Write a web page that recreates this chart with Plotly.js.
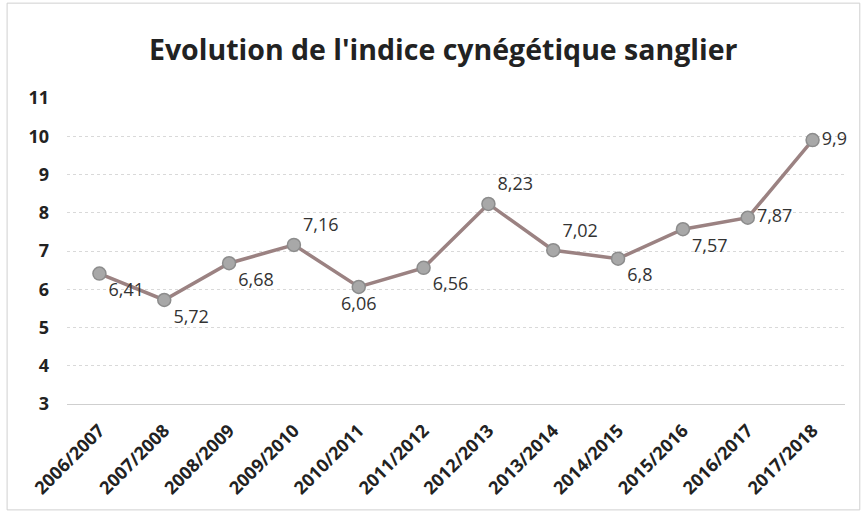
<!DOCTYPE html>
<html>
<head>
<meta charset="utf-8">
<script src="https://cdn.plot.ly/plotly-3.0.1.min.js"></script>
<style>html,body{margin:0;padding:0;background:#fff;}#chart{width:864px;height:512px;}</style>
</head>
<body>
<div id="chart"></div>
<script>
const seasons = ["2006/2007","2007/2008","2008/2009","2009/2010","2010/2011","2011/2012","2012/2013","2013/2014","2014/2015","2015/2016","2016/2017","2017/2018"];
const indice = [6.41, 5.72, 6.68, 7.16, 6.06, 6.56, 8.23, 7.02, 6.8, 7.57, 7.87, 9.9];
const labelPos = ["bottom right","bottom right","bottom right","top right","bottom center","bottom right","top right","top right","bottom right","bottom right","middle right","middle right"];
const labels = indice.map(v => String(v).replace('.', ','));

const trace = {
  x: seasons, y: indice, type: 'scatter', mode: 'lines+markers+text',
  line: {color: 'rgb(155,130,130)', width: 3.5},
  marker: {size: 13, color: 'rgb(168,168,168)', line: {color: 'rgb(140,140,140)', width: 1.5}},
  text: labels, textposition: labelPos,
  textfont: {family: 'Open Sans, Liberation Sans, sans-serif', size: 18, color: '#333'},
  cliponaxis: false, hoverinfo: 'skip'
};

const layout = {
  width: 864, height: 512,
  margin: {l: 67, r: 19, t: 98, b: 108},
  paper_bgcolor: '#fff', plot_bgcolor: '#fff',
  showlegend: false,
  title: {text: "Evolution de l'indice cynégétique sanglier", x: 0.513, xanchor: 'center', y: 0.903, yanchor: 'middle',
          font: {family: 'Open Sans, Liberation Sans, sans-serif', size: 28.5, color: '#222', weight: 'bold'}},
  xaxis: {type: 'category', range: [-0.5, 11.5], tickangle: -45, showgrid: false, zeroline: false,
          showline: true, linecolor: '#cfcfcf', linewidth: 1,
          ticks: '', ticklabelstandoff: 8,
          tickfont: {family: 'Open Sans, Liberation Sans, sans-serif', size: 18, color: '#222', weight: 'bold'}},
  yaxis: {range: [3, 11], dtick: 1, tick0: 3, showgrid: true, gridcolor: '#d9d9d9', griddash: 'dot', gridwidth: 1,
          zeroline: false, showline: false, ticks: '', ticklen: 0, ticklabelstandoff: 17,
          tickfont: {family: 'Open Sans, Liberation Sans, sans-serif', size: 18, color: '#222', weight: 'bold'}},
  shapes: [{type: 'rect', xref: 'paper', yref: 'paper', x0: -0.077, x1: 1.019, y0: -0.346, y1: 1.31,
            line: {color: '#d0d0d0', width: 1}, fillcolor: 'rgba(0,0,0,0)', layer: 'below'}]
};

Plotly.newPlot('chart', [trace], layout, {staticPlot: true, displayModeBar: false});
</script>
</body>
</html>
